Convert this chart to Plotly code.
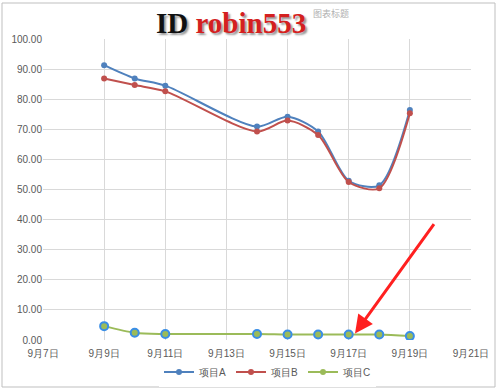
import plotly.graph_objects as go

dates = ["2016-09-09", "2016-09-10", "2016-09-11", "2016-09-14", "2016-09-15",
         "2016-09-16", "2016-09-17", "2016-09-18", "2016-09-19"]
series_a = [91.3, 86.9, 84.5, 70.9, 74.2, 69.3, 52.9, 51.4, 76.4]
series_b = [86.9, 84.7, 82.6, 69.3, 72.9, 68.1, 52.5, 50.4, 75.3]
series_c = [4.6, 2.4, 2.0, 2.0, 1.8, 1.8, 1.8, 1.8, 1.3]
names = ["项目A", "项目B", "项目C"]
colors = ["#4F81BD", "#C0504D", "#9BBB59"]

fig = go.Figure()
for name, vals, col in zip(names, [series_a, series_b, series_c], colors):
    if name == "项目C":
        marker = dict(size=8, color=col, symbol="circle",
                      line=dict(color="#3A8EE6", width=2))
    else:
        marker = dict(size=6, color=col)
    fig.add_trace(go.Scatter(x=dates, y=vals, name=name, mode="lines+markers",
                             line=dict(color=col, width=2, shape="spline", smoothing=0.8),
                             marker=marker, showlegend=False))
# legend entries with small markers
for name, col in zip(names, colors):
    fig.add_trace(go.Scatter(x=[None], y=[None], name=name, mode="lines+markers",
                             line=dict(color=col, width=2),
                             marker=dict(size=6, color=col)))

font_family = "Liberation Sans, Arial, sans-serif"
fig.update_layout(
    width=500, height=391,
    margin=dict(l=43, r=29, t=39, b=51, autoexpand=False),
    paper_bgcolor="white", plot_bgcolor="white",
    font=dict(family=font_family, size=10, color="#595959"),
    showlegend=True,
    legend=dict(orientation="h", x=0.535, xanchor="center", xref="container",
                y=19 / 391, yref="container", yanchor="middle",
                font=dict(size=10, color="#595959"), itemwidth=30, traceorder="normal"),
    xaxis=dict(type="date", range=["2016-09-07", "2016-09-21"], dtick=2 * 86400000,
               tick0="2016-09-07", tickformat="%-m月%-d日", showgrid=True,
               gridcolor="#D9D9D9", gridwidth=1, zeroline=False, showline=False,
               ticks="", ticklen=0, ticklabelstandoff=6,
               tickfont=dict(size=10, color="#595959")),
    yaxis=dict(range=[0, 100], dtick=10, tickformat=".2f", showgrid=True,
               gridcolor="#D9D9D9", gridwidth=1, zeroline=False, showline=False,
               ticks="", tickfont=dict(size=10, color="#595959")),
)

# faint default title (partly hidden behind the big title in the original)
fig.add_annotation(xref="paper", yref="paper", x=0.625, y=1.0, yshift=26,
                   xanchor="left", yanchor="middle", text="图表标题", showarrow=False,
                   font=dict(size=9, color="#B0B0B0", family="Noto Sans CJK SC"))
fig.add_annotation(xref="paper", yref="paper", x=0.44, y=1.0, yshift=16,
                   yanchor="middle",
                   text="<b>ID </b><b><span style='color:#D42020'>robin553</span></b>",
                   showarrow=False,
                   font=dict(size=29, color="#111111", family="Liberation Serif",
                             shadow="2px 2px 2px #999999"))

# red arrow
fig.add_annotation(xref="x domain", yref="y domain", x=0.729, y=0.022,
                   axref="x domain", ayref="y domain", ax=0.916, ay=0.39,
                   text="", showarrow=True,
                   arrowhead=2, arrowsize=1.2, arrowwidth=3, arrowcolor="#FF2020")

# chart frame
fig.add_shape(type="rect", xref="paper", yref="paper",
              x0=-41 / 428, x1=1 + 24 / 428, y0=-47 / 301, y1=1 + 36 / 301,
              line=dict(color="#BFBFBF", width=1))

fig.write_html("out.html")
